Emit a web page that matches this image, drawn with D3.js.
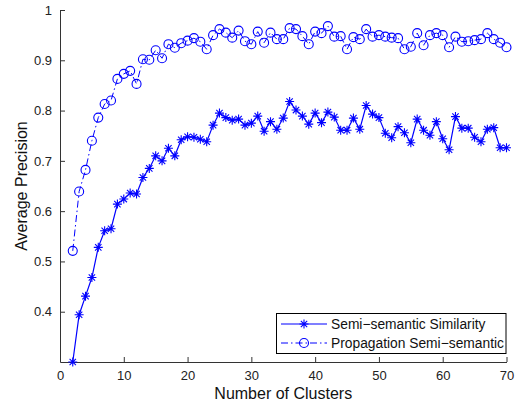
<!DOCTYPE html>
<html>
<head>
<meta charset="utf-8">
<script src="https://cdn.jsdelivr.net/npm/d3@7"></script>
<style>
  body { margin: 0; background: #fff; }
  text { font-family: "Liberation Sans", Arial, sans-serif; }
</style>
</head>
<body>
<script>
// data
const clusters = d3.range(2, 71)
const semiSemantic = [
    0.300, 0.394, 0.431, 0.468, 0.528, 0.561, 0.565, 0.614, 0.624, 0.636,
    0.634, 0.667, 0.685, 0.710, 0.700, 0.725, 0.710, 0.742, 0.748, 0.747,
    0.743, 0.738, 0.771, 0.795, 0.786, 0.781, 0.783, 0.771, 0.775, 0.789,
    0.759, 0.778, 0.763, 0.785, 0.818, 0.801, 0.789, 0.773, 0.795, 0.776,
    0.797, 0.787, 0.761, 0.761, 0.785, 0.763, 0.810, 0.793, 0.786, 0.755,
    0.746, 0.768, 0.756, 0.736, 0.783, 0.761, 0.751, 0.778, 0.744, 0.722,
    0.788, 0.765, 0.765, 0.747, 0.738, 0.763, 0.766, 0.726, 0.726
]
const propagation = [
    0.521, 0.639, 0.682, 0.740, 0.786, 0.813, 0.820, 0.863, 0.873, 0.879,
    0.853, 0.902, 0.901, 0.920, 0.904, 0.932, 0.925, 0.934, 0.939, 0.944,
    0.937, 0.922, 0.950, 0.962, 0.955, 0.945, 0.959, 0.938, 0.932, 0.957,
    0.935, 0.955, 0.942, 0.942, 0.964, 0.962, 0.948, 0.932, 0.957, 0.954,
    0.968, 0.947, 0.948, 0.922, 0.946, 0.942, 0.962, 0.947, 0.950, 0.947,
    0.945, 0.944, 0.922, 0.927, 0.954, 0.930, 0.950, 0.954, 0.950, 0.926,
    0.947, 0.937, 0.938, 0.940, 0.942, 0.954, 0.942, 0.935, 0.926
]
const seriesNames = ['Semi\u2212semantic Similarity', 'Propagation Semi\u2212semantic']
const xTicks = d3.range(0, 71, 10)
const yTicks = [0.4, 0.5, 0.6, 0.7, 0.8, 0.9, 1]

const width = 517, height = 407
const margin = {left: 60, right: 10, top: 10, bottom: 45}
const blue = '#0000ff'

const svg = d3.select('body').append('svg')
    .attr('width', width)
    .attr('height', height)

const x = d3.scaleLinear().domain([0, 70]).range([margin.left, 506.5])
const y = d3.scaleLinear().domain([0.3, 1]).range([362, margin.top])

// axes (matlab style, ticks inside, no box)
const xAxis = svg.append('g')
    .attr('transform', `translate(0,${y(0.3)})`)
    .call(d3.axisBottom(x).tickValues(xTicks).tickSizeInner(-5).tickSizeOuter(0).tickPadding(9))
const yAxis = svg.append('g')
    .attr('transform', `translate(${x(0)},0)`)
    .call(d3.axisLeft(y).tickValues(yTicks).tickFormat(d3.format('')).tickSizeInner(-5).tickSizeOuter(0).tickPadding(8))

for (let ax of [xAxis, yAxis]) {
    ax.selectAll('path, line').attr('stroke', '#333')
    ax.selectAll('text').attr('font-size', 13).attr('fill', '#222')
        .attr('font-family', '"Liberation Sans", Arial, sans-serif')
}

svg.append('text')
    .attr('x', x(35))
    .attr('y', 399)
    .attr('text-anchor', 'middle')
    .attr('font-size', 16)
    .attr('fill', '#111')
    .text('Number of Clusters')

svg.append('text')
    .attr('transform', `translate(27,${y(0.65)}) rotate(-90)`)
    .attr('text-anchor', 'middle')
    .attr('font-size', 16)
    .attr('fill', '#111')
    .text('Average Precision')

// series
const line = d3.line()
    .x(d => x(d[0]))
    .y(d => y(d[1]))

const semiData = clusters.map((c, i) => [c, semiSemantic[i]])
const propData = clusters.map((c, i) => [c, propagation[i]])

svg.append('path')
    .datum(semiData)
    .attr('fill', 'none')
    .attr('stroke', blue)
    .attr('stroke-width', 1.2)
    .attr('d', line)

svg.append('path')
    .datum(propData)
    .attr('fill', 'none')
    .attr('stroke', blue)
    .attr('stroke-width', 1)
    .attr('stroke-dasharray', '7,3,1.5,3')
    .attr('d', line)

function asterisk(g, cx, cy, r) {
    const a = r * 0.707
    g.append('path')
        .attr('d', `M${cx - r},${cy}H${cx + r}M${cx},${cy - r}V${cy + r}` +
            `M${cx - a},${cy - a}L${cx + a},${cy + a}M${cx - a},${cy + a}L${cx + a},${cy - a}`)
        .attr('stroke', blue)
        .attr('stroke-width', 1.1)
        .attr('fill', 'none')
}

function circle(g, cx, cy, r) {
    g.append('circle')
        .attr('cx', cx)
        .attr('cy', cy)
        .attr('r', r)
        .attr('fill', 'none')
        .attr('stroke', blue)
        .attr('stroke-width', 1.1)
}

const markers = svg.append('g')
semiData.forEach(d => asterisk(markers, x(d[0]), y(d[1]), 4.5))
propData.forEach(d => circle(markers, x(d[0]), y(d[1]), 4.5))

// legend
const legend = svg.append('g')
legend.append('rect')
    .attr('x', 276.5)
    .attr('y', 313.5)
    .attr('width', 229.5)
    .attr('height', 40)
    .attr('fill', '#fff')
    .attr('stroke', '#000')
    .attr('stroke-width', 1)

seriesNames.forEach((name, i) => {
    const ly = 324 + i * 19
    legend.append('line')
        .attr('x1', 281).attr('x2', 327)
        .attr('y1', ly).attr('y2', ly)
        .attr('stroke', blue)
        .attr('stroke-width', i == 0 ? 1.2 : 1)
        .attr('stroke-dasharray', i == 0 ? null : '7,3,1.5,3')
    if (i == 0) {
        asterisk(legend, 304, ly, 4.5)
    } else {
        circle(legend, 304, ly, 4.5)
    }
    legend.append('text')
        .attr('x', 331)
        .attr('y', ly + 5)
        .attr('font-size', 13.8)
        .attr('fill', '#111')
        .text(name)
})
</script>
</body>
</html>
